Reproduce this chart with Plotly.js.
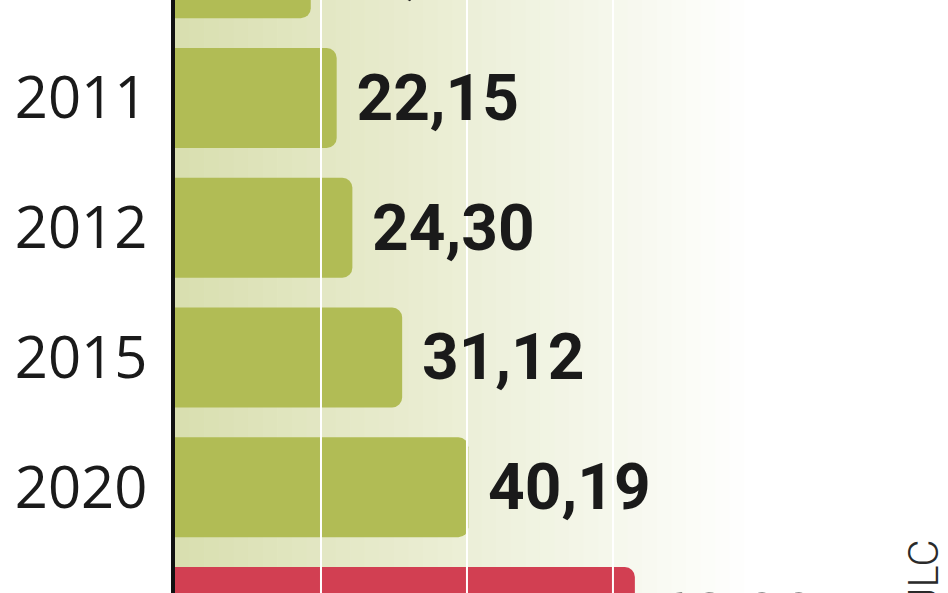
<!DOCTYPE html>
<html>
<head>
<meta charset="utf-8">
<script src="https://cdn.plot.ly/plotly-3.0.1.min.js"></script>
<style>
  html, body { margin: 0; padding: 0; background: #fff; }
  #chart { width: 948px; height: 593px; }
</style>
</head>
<body>
<div id="chart"></div>
<script>
// values (top and bottom rows are cut off in the original)
const years = ["2010", "2011", "2012", "2015", "2020", "2030"];
const values = [18.60, 22.15, 24.30, 31.12, 40.19, 63.00];
const gridVals = [20, 40, 60];

const green = "#b1bc55";
const red = "#d23f52";
let colors = years.map((y, i) => (i === years.length - 1) ? red : green);

// number labels with a decimal comma
let valueText = values.map(v => v.toFixed(2).replace(".", ","));

// pale green background fading to white, drawn as thin strips
let shapes = [];
const steps = 40;
const fadeEnd = 80;
for (let i = 0; i < steps; i++) {
    let t = i / (steps - 1);
    let r = Math.round(0xd9 + (255 - 0xd9) * t);
    let g = Math.round(0xdf + (255 - 0xdf) * t);
    let b = Math.round(0xb0 + (255 - 0xb0) * t);
    shapes.push({
        type: "rect", layer: "below", xref: "x", yref: "paper",
        x0: fadeEnd * i / steps, x1: fadeEnd * (i + 1) / steps + 0.1, y0: 0, y1: 1,
        line: {width: 0}, fillcolor: "rgb(" + r + "," + g + "," + b + ")"
    });
}

// white grid lines have to sit over the bars but under the numbers,
// so they get their own overlaying axis
let gx = [], gy = [];
gridVals.forEach(v => { gx.push(v, v, null); gy.push(0, 1, null); });

let bars = {
    type: "bar",
    orientation: "h",
    x: values,
    y: years,
    marker: {color: colors, cornerradius: 10, line: {width: 0}},
    hoverinfo: "none"
};

let grid = {
    type: "scatter",
    mode: "lines",
    x: gx,
    y: gy,
    yaxis: "y2",
    line: {color: "#ffffff", width: 2},
    hoverinfo: "none"
};

// labels as a text trace so the cut-off rows are clipped, not hidden
let numbers = {
    type: "scatter",
    mode: "markers+text",
    x: values,
    y: years,
    yaxis: "y3",
    text: valueText,
    textposition: "middle right",
    marker: {size: 30, color: "rgba(0,0,0,0)"},
    textfont: {family: "Roboto, Liberation Sans, sans-serif", size: 64, color: "#1a1a1a", weight: "bold"},
    cliponaxis: true,
    hoverinfo: "none"
};

const catRange = [4.815, 0.245];
const textNudge = 0.045;   // numbers sit a few px lower than the bar middles

let layout = {
    width: 948,
    height: 593,
    margin: {l: 175, r: 0, t: 0, b: 0},
    paper_bgcolor: "#ffffff",
    plot_bgcolor: "#ffffff",
    showlegend: false,
    bargap: 0.23,
    xaxis: {
        range: [0, 105.9],
        showticklabels: false,
        showgrid: false,
        zeroline: false,
        showline: false
    },
    yaxis: {
        type: "category",
        categoryorder: "array",
        categoryarray: years,
        range: catRange,
        showgrid: false,
        zeroline: false,
        showline: true,
        linecolor: "#111111",
        linewidth: 4,
        ticks: "",
        ticklabelstandoff: 12,
        tickfont: {family: "Open Sans, Liberation Sans, sans-serif", size: 58, color: "#1a1a1a"}
    },
    yaxis2: {
        overlaying: "y",
        range: [0, 1],
        visible: false
    },
    yaxis3: {
        overlaying: "y",
        type: "category",
        categoryorder: "array",
        categoryarray: years,
        range: [catRange[0] - textNudge, catRange[1] - textNudge],
        visible: false
    },
    annotations: [{
        // source credit, rotated, partly cut off at the bottom
        x: 0.968, y: 0.093, xref: "paper", yref: "paper",
        text: "JLC", showarrow: false, textangle: -90,
        xanchor: "center", yanchor: "top",
        font: {family: "Roboto, sans-serif", size: 42, color: "#2a2a2a", weight: 300}
    }],
    shapes: shapes
};

Plotly.newPlot("chart", [bars, grid, numbers], layout, {displayModeBar: false, staticPlot: true});
</script>
</body>
</html>
